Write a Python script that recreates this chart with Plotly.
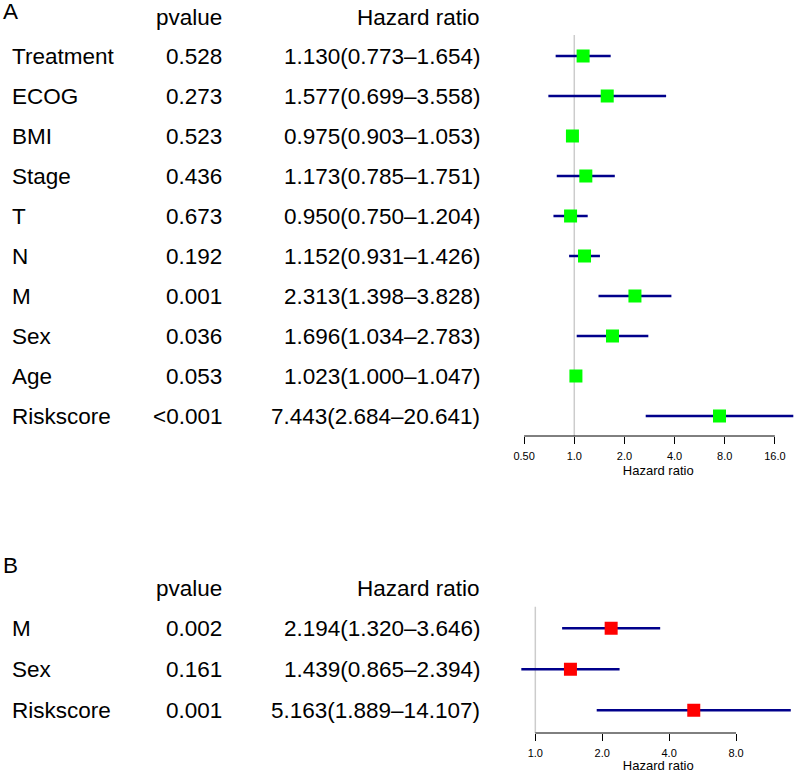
import plotly.graph_objects as go

# Panel A: univariate Cox
a_vars = ["Treatment", "ECOG", "BMI", "Stage", "T", "N", "M", "Sex", "Age", "Riskscore"]
a_pval = ["0.528", "0.273", "0.523", "0.436", "0.673", "0.192", "0.001", "0.036", "0.053", "<0.001"]
a_hr = [1.130, 1.577, 0.975, 1.173, 0.950, 1.152, 2.313, 1.696, 1.023, 7.443]
a_low = [0.773, 0.699, 0.903, 0.785, 0.750, 0.931, 1.398, 1.034, 1.000, 2.684]
a_high = [1.654, 3.558, 1.053, 1.751, 1.204, 1.426, 3.828, 2.783, 1.047, 20.641]
a_ticks = [0.5, 1, 2, 4, 8, 16]
a_ticktext = ["0.50", "1.0", "2.0", "4.0", "8.0", "16.0"]

# Panel B: multivariate Cox
b_vars = ["M", "Sex", "Riskscore"]
b_pval = ["0.002", "0.161", "0.001"]
b_hr = [2.194, 1.439, 5.163]
b_low = [1.320, 0.865, 1.889]
b_high = [3.646, 2.394, 14.107]
b_ticks = [1, 2, 4, 8]
b_ticktext = ["1.0", "2.0", "4.0", "8.0"]

W, H = 796, 773
FONT = "Liberation Sans, Arial, Helvetica, sans-serif"
LEFT_PAD = 9  # left-anchored annotations render this much to the right


def px(x):
    # page pixel from left -> paper x
    return x / W


def py(y):
    # page pixel from top -> paper y
    return 1 - y / H


def ci_segments(vars_, low, high):
    xs, ys = [], []
    for v, lo, hi in zip(vars_, low, high):
        xs += [lo, hi, None]
        ys += [v, v, None]
    return xs, ys


fig = go.Figure()

panels = [
    ("x", "y", a_vars, a_pval, a_hr, a_low, a_high, "#00FF00"),
    ("x2", "y2", b_vars, b_pval, b_hr, b_low, b_high, "#FF0000"),
]

for xa, ya, vars_, pv, hr, lo, hi, col in panels:
    xs, ys = ci_segments(vars_, lo, hi)
    fig.add_trace(go.Scatter(x=xs, y=ys, mode="lines", xaxis=xa, yaxis=ya,
                             line=dict(color="#00008B", width=2.5), showlegend=False))
    fig.add_trace(go.Scatter(x=hr, y=vars_, mode="markers", xaxis=xa, yaxis=ya,
                             marker=dict(symbol="square", size=13, color=col),
                             showlegend=False))
    # reference line at HR = 1
    fig.add_shape(type="line", xref=xa, yref=ya + " domain", x0=1, x1=1, y0=0, y1=1,
                  line=dict(color="#CCCCCC", width=1.5), layer="below")
    # table text
    for v, p, h, l, u in zip(vars_, pv, hr, lo, hi):
        fig.add_annotation(x=px(12 - LEFT_PAD), y=v, xref="paper", yref=ya, text=v,
                           xanchor="left", yanchor="middle", align="left", showarrow=False)
        fig.add_annotation(x=px(219), y=v, xref="paper", yref=ya, text=p,
                           xanchor="right", yanchor="middle", showarrow=False)
        fig.add_annotation(x=px(479), y=v, xref="paper", yref=ya,
                           text=f"{h:.3f}({l:.3f}\u2013{u:.3f})",
                           xanchor="right", yanchor="middle", showarrow=False)

# axis baselines only over the tick span (R style)
fig.add_shape(type="line", xref="x", yref="y domain", x0=min(a_ticks), x1=max(a_ticks),
              y0=0, y1=0, line=dict(color="black", width=1))
fig.add_shape(type="line", xref="x2", yref="y2 domain", x0=min(b_ticks), x1=max(b_ticks),
              y0=0, y1=0, line=dict(color="black", width=1))

# headers and panel letters
for letter, ly, hy in [("A", 12, 18), ("B", 565, 588)]:
    fig.add_annotation(x=px(3 - LEFT_PAD), y=py(ly), xref="paper", yref="paper", text=letter,
                       xanchor="left", yanchor="middle", align="left", showarrow=False)
    fig.add_annotation(x=px(219), y=py(hy), xref="paper", yref="paper", text="pvalue",
                       xanchor="right", yanchor="middle", showarrow=False)
    fig.add_annotation(x=px(479), y=py(hy), xref="paper", yref="paper", text="Hazard ratio",
                       xanchor="right", yanchor="middle", showarrow=False)

xcommon = dict(type="log", showgrid=False, zeroline=False, showline=False,
               ticks="outside", ticklen=7, tickwidth=1, tickcolor="black",
               ticklabelstandoff=3,
               tickfont=dict(size=11, color="black"),
               title=dict(text="Hazard ratio", font=dict(size=13, color="black"), standoff=4))
ycommon = dict(showgrid=False, zeroline=False, showline=False, showticklabels=False,
               ticks="", type="category")

fig.update_layout(
    width=W, height=H,
    margin=dict(l=0, r=0, t=0, b=0),
    paper_bgcolor="white", plot_bgcolor="white",
    font=dict(family=FONT, size=22.5, color="black"),
    xaxis=dict(xcommon, domain=[px(518), px(796)], anchor="y",
               range=[-0.3231, 1.3309], tickvals=a_ticks, ticktext=a_ticktext),
    yaxis=dict(ycommon, domain=[py(436), py(35)], anchor="x", range=[9.5, -0.525]),
    xaxis2=dict(xcommon, domain=[px(518), px(796)], anchor="y2",
                range=[-0.0669, 1.1729], tickvals=b_ticks, ticktext=b_ticktext,
                title_standoff=2),
    yaxis2=dict(ycommon, domain=[py(733), py(606.7)], anchor="x2", range=[2.554, -0.527]),
)

# drop the default page margin so the figure sits at the window corner
fig.write_html("out.html", config={"displayModeBar": False},
               post_script="document.body.style.margin = '0';")
